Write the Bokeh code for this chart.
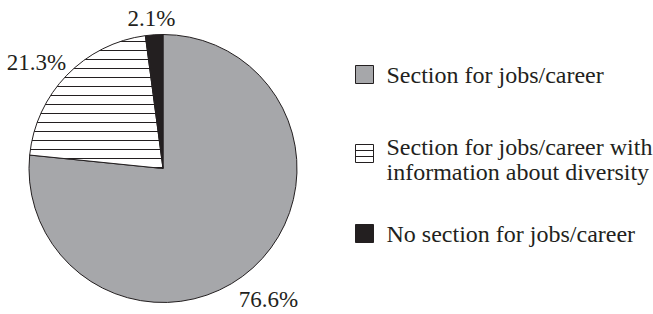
import math
from bokeh.plotting import figure
from bokeh.models import Range1d, ColumnDataSource
from bokeh.core.properties import value
from bokeh.embed import file_html
from bokeh.resources import INLINE

# ---- data ----
categories = ["Section for jobs/career",
              "Section for jobs/career with\ninformation about diversity",
              "No section for jobs/career"]
shares = [76.6, 21.3, 2.1]
share_labels = ["76.6%", "21.3%", "2.1%"]

# ---- styles ----
fills = ["#a6a7aa", "#ffffff", "#231f20"]
hatches = [" ", "horizontal_line", " "]
ink = "#231f20"
FONT = value("Liberation Serif")

W, H = 653, 314
def sy(y):  # screen y -> data y
    return H - y

p = figure(width=W, height=H, output_backend="svg", toolbar_location=None,
           x_range=Range1d(0, W), y_range=Range1d(0, H),
           x_axis_type=None, y_axis_type=None, min_border=0)
p.outline_line_color = None
p.xgrid.visible = False
p.ygrid.visible = False

cx, cy, r = 162.5, sy(168), 134
total = sum(shares)
starts, ends = [], []
acc = 0.0
for s in shares:
    starts.append(math.pi / 2 - 2 * math.pi * acc / total)
    acc += s
    ends.append(math.pi / 2 - 2 * math.pi * acc / total)

src = ColumnDataSource(dict(start=starts, end=ends, fill=fills, hatch=hatches))
p.wedge(x=cx, y=cy, radius=r, start_angle="start", end_angle="end",
        direction="clock", fill_color="fill", line_color=ink, line_width=1,
        hatch_pattern="hatch", hatch_color=ink, hatch_scale=9, hatch_weight=1,
        source=src)

TEXT_SHIFT = 9  # renderer places alphabetic baseline lower; compensate

# slice labels (layout positions)
label_pos = [(268, 308), (36, 70.5), (151, 26.5)]
p.text(x=[q[0] for q in label_pos], y=[sy(q[1] - TEXT_SHIFT) for q in label_pos],
       text=share_labels, text_font=FONT, text_font_size="23px",
       text_align="center", text_baseline="alphabetic", text_color=ink)

# legend (drawn manually)
box_x, box_size = 364, 18
box_y = [74, 153, 233]
p.rect(x=[box_x] * 3, y=[sy(v) for v in box_y], width=box_size, height=box_size,
       fill_color=fills, line_color=ink, line_width=1)
# stripes in hatched legend box
p.segment(x0=[box_x - box_size / 2] * 2, x1=[box_x + box_size / 2] * 2,
          y0=[sy(box_y[1] - 3), sy(box_y[1] + 3)], y1=[sy(box_y[1] - 3), sy(box_y[1] + 3)],
          line_color=ink, line_width=1)

text_x = 386
first_baselines = [83, 155, 242]
line_gap = 25
tx, ty, tt = [], [], []
for cat, b in zip(categories, first_baselines):
    for i, line in enumerate(cat.split("\n")):
        tx.append(text_x)
        ty.append(sy(b + i * line_gap - TEXT_SHIFT))
        tt.append(line)
p.text(x=tx, y=ty, text=tt, text_font=FONT, text_font_size="24px",
       text_align="left", text_baseline="alphabetic", text_color=ink)

open("out.html", "w").write(file_html(p, INLINE))
